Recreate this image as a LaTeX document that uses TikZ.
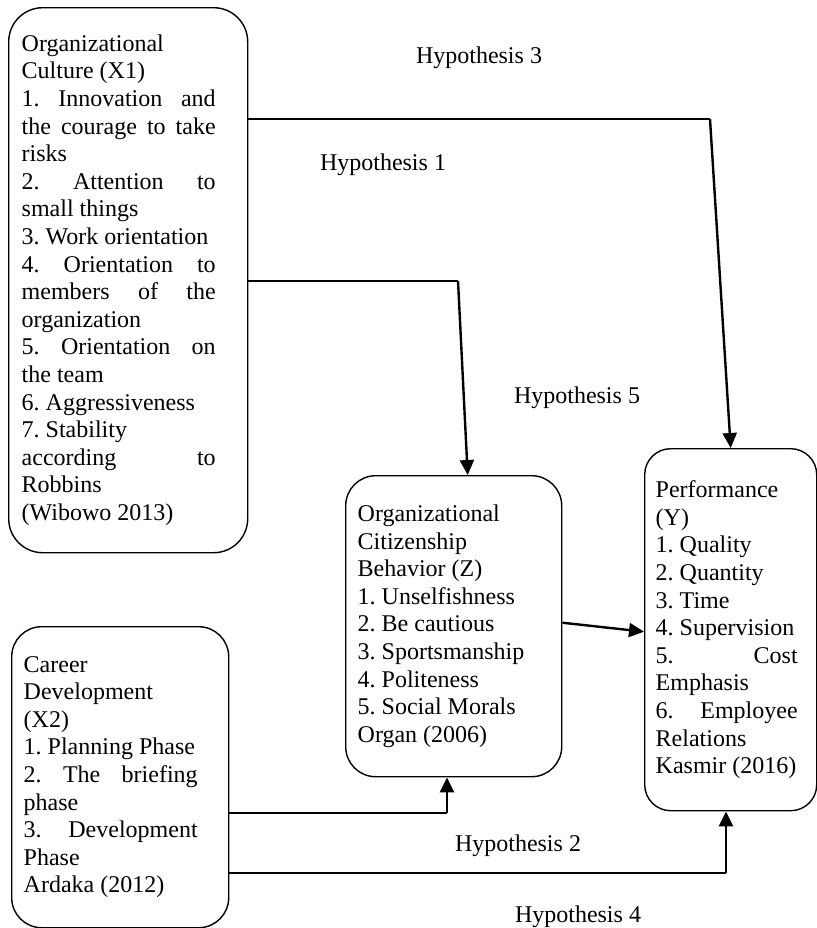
\documentclass[tikz,border=0pt]{standalone}
\usepackage{fontspec}
\setmainfont{Liberation Serif}
\usetikzlibrary{arrows.meta}
\frenchspacing

\newcommand{\spreadline}[2]{\makebox[#1][s]{\spaceskip=.25em plus 1fil\relax #2}}

\begin{document}
\begin{tikzpicture}[x=0.5pt,y=-0.5pt,>={Triangle[length=7.5pt,width=7pt]},
    font=\fontsize{12pt}{13.8pt}\selectfont,
    var box/.style={draw,line width=0.7pt,rounded corners=15pt,align=left,anchor=north west,inner ysep=0pt,
        execute at begin node={\spaceskip=0pt\relax}},
    link/.style={line width=0.6pt}, path arrow/.style={->,line width=1.2pt}]

	\useasboundingbox (0,0) rectangle (817,928);

	\node[var box, text width=106.5pt, inner xsep=6.5pt, minimum height=272.5pt, rounded corners=17pt] (x1) at (8,7) {%
		Organizational\\ Culture (X1)\\
		\spreadline{97pt}{1. Innovation and}\\ \spreadline{97pt}{the courage to take}\\ risks\\
		\spreadline{97pt}{2. Attention to}\\ small things\\
		3. Work orientation\\
		\spreadline{97pt}{4. Orientation to}\\ \spreadline{97pt}{members of the}\\ organization\\
		\spreadline{97pt}{5. Orientation on}\\ the team\\
		6. Aggressiveness\\
		7. Stability\\ \spreadline{97pt}{according to}\\ Robbins\\
		(Wibowo 2013)};
	\node[var box, text width=96.5pt, inner xsep=6pt, minimum height=150.5pt] (x2) at (11,626) {%
		Career\\ Development\\ (X2)\\
		1. Planning Phase\\
		\spreadline{87pt}{2. The briefing}\\ phase\\
		\spreadline{87pt}{3. Development}\\ Phase\\
		Ardaka (2012)};
	\node[var box, text width=96pt, inner xsep=6pt, minimum height=150.5pt] (z) at (345,475) {%
		Organizational\\ Citizenship\\ Behavior (Z)\\
		1. Unselfishness\\ 2. Be cautious\\ 3. Sportsmanship\\ 4. Politeness\\ 5. Social Morals\\
		Organ (2006)};
	\node[var box, text width=75pt, inner xsep=5.5pt, minimum height=181pt, rounded corners=13pt] (y) at (644,448) {%
		Performance\\ (Y)\\
		1. Quality\\ 2. Quantity\\ 3. Time\\ 4. Supervision\\
		\spreadline{71pt}{5. Cost}\\ Emphasis\\
		\spreadline{71pt}{6. Employee}\\ Relations\\
		Kasmir (2016)};

	% hypothesis labels
	\node (h3) at (479,58) {Hypothesis 3};
	\node (h1) at (383,165) {Hypothesis 1};
	\node (h5) at (577,398) {Hypothesis 5};
	\node (h2) at (518,846) {Hypothesis 2};
	\node (h4) at (578,917) {Hypothesis 4};

	\coordinate (h3 corner) at (710,119);
	\coordinate (h1 corner) at (458,281);
	\coordinate (h2 corner) at (447,813);
	\coordinate (h4 corner) at (726,873);

	\draw[link] (x1.east |- h3 corner) -- (h3 corner);
	\draw[path arrow] (h3 corner) -- (y.north);
	\draw[link] (x1.east |- h1 corner) -- (h1 corner);
	\draw[path arrow] (h1 corner) -- ([xshift=7pt]z.north);
	\draw[path arrow] ([yshift=1.75pt]z.east) -- ([yshift=-1pt]y.west);
	\draw[link] (x2.east |- h2 corner) -- (h2 corner);
	\draw[path arrow] (h2 corner) -- (z.south -| h2 corner);
	\draw[link] (x2.east |- h4 corner) -- (h4 corner);
	\draw[path arrow] (h4 corner) -- (y.south -| h4 corner);

\end{tikzpicture}
\end{document}
